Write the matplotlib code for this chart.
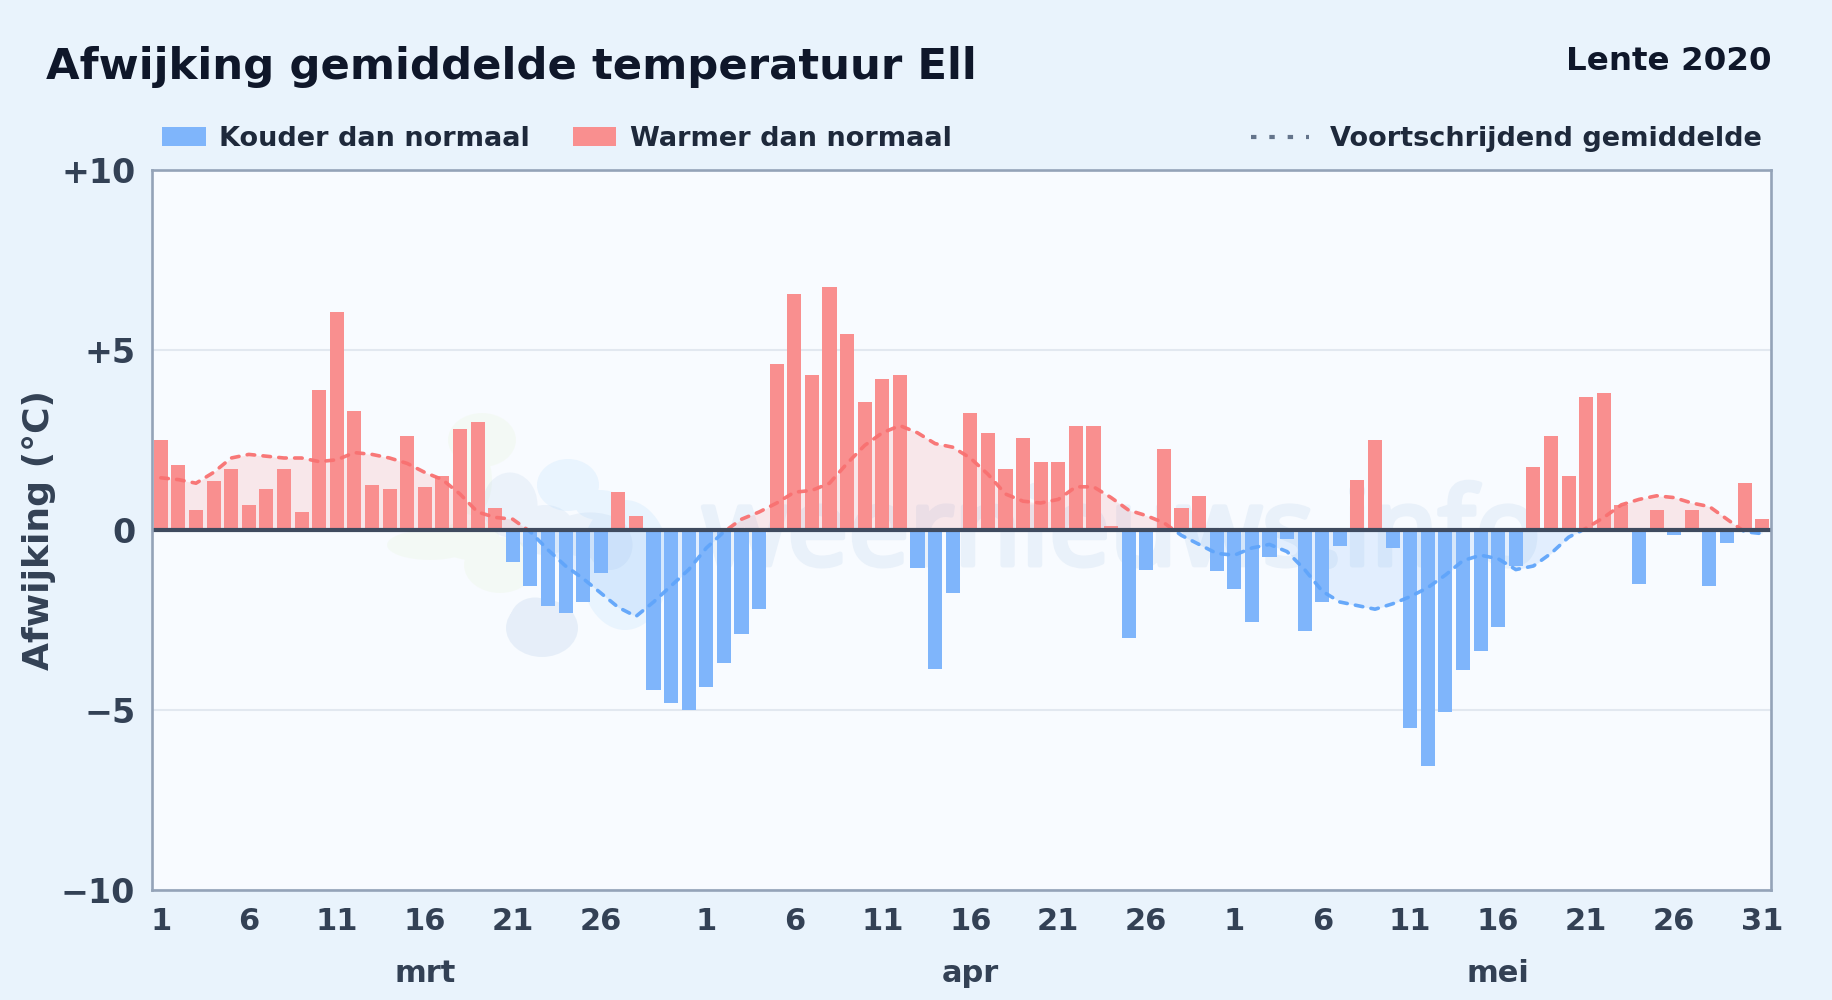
import numpy as np
import matplotlib
matplotlib.use("Agg")
import matplotlib.pyplot as plt
import matplotlib.patheffects as pe
from matplotlib.patches import Rectangle, PathPatch
from matplotlib.path import Path
from matplotlib.transforms import Affine2D, IdentityTransform, blended_transform_factory
from matplotlib.lines import Line2D

plt.rcParams['font.family'] = ['DejaVu Sans']

TITLE = "Afwijking gemiddelde temperatuur Ell"
PERIOD = "Lente 2020"
YLABEL = "Afwijking (°C)"
LEGEND_COLD = "Kouder dan normaal"
LEGEND_WARM = "Warmer dan normaal"
LEGEND_MEAN = "Voortschrijdend gemiddelde"

march = [2.5, 1.8, 0.55, 1.35, 1.7, 0.7, 1.15, 1.7, 0.5, 3.9, 6.05, 3.3, 1.25, 1.15, 2.6, 1.2,
         1.5, 2.8, 3.0, 0.6, -0.9, -1.55, -2.1, -2.3, -2.0, -1.2, 1.05, 0.4, -4.45, -4.8, -5.0]
april = [-4.35, -3.7, -2.9, -2.2, 4.6, 6.55, 4.3, 6.75, 5.45, 3.55, 4.2, 4.3, -1.05, -3.85, -1.75,
         3.25, 2.7, 1.7, 2.55, 1.9, 1.9, 2.9, 2.9, 0.1, -3.0, -1.1, 2.25, 0.6, 0.95, -1.15]
may = [-1.65, -2.55, -0.75, -0.25, -2.8, -2.0, -0.45, 1.4, 2.5, -0.5, -5.5, -6.55, -5.05, -3.9,
       -3.35, -2.7, -1.0, 1.75, 2.6, 1.5, 3.7, 3.8, 0.7, -1.5, 0.55, -0.15, 0.55, -1.55, -0.35, 1.3, 0.3]
running_mean = [1.45, 1.4, 1.3, 1.6, 2.0, 2.1, 2.05, 2.0, 2.0, 1.9, 1.95, 2.15, 2.1, 2.0, 1.85, 1.6,
                1.4, 1.0, 0.5, 0.35, 0.3, -0.05, -0.55, -1.0, -1.35, -1.75, -2.15, -2.4, -2.0, -1.55, -1.1,
                -0.5, -0.05, 0.3, 0.5, 0.75, 1.05, 1.1, 1.3, 1.85, 2.35, 2.7, 2.9, 2.7, 2.4, 2.3,
                2.0, 1.55, 1.0, 0.8, 0.75, 0.85, 1.2, 1.2, 0.9, 0.55, 0.4, 0.2, -0.15, -0.4, -0.65,
                -0.7, -0.5, -0.4, -0.6, -1.1, -1.7, -2.0, -2.1, -2.2, -2.05, -1.85, -1.6, -1.25, -0.85,
                -0.7, -0.8, -1.1, -1.0, -0.65, -0.2, 0.05, 0.35, 0.7, 0.85, 0.95, 0.9, 0.75, 0.65, 0.3, -0.05, -0.1]
month_names = ["mrt", "apr", "mei"]
day_ticks = [1, 6, 11, 16, 21, 26]
y_ticks = [-10, -5, 0, 5, 10]
y_labels = ["\u221210", "\u22125", "0", "+5", "+10"]

values = np.array(march + april + may)
mean = np.array(running_mean)
x = np.arange(len(values))
month_lengths = [len(march), len(april), len(may)]

BG = "#e9f3fc"
BLUE = "#60a5fa"
RED = "#f87171"
BLUE_BAR = "#7fb5fb"
RED_BAR = "#f98f8f"

W, H = 1832, 1000
fig = plt.figure(figsize=(W / 100, H / 100), dpi=100, facecolor=BG)
ax = fig.add_axes([152 / W, 1 - 890 / H, (1771 - 152) / W, (890 - 170) / H], facecolor="#f8fbff")
ax.set_xlim(-0.5, len(values) - 0.5)
ax.set_ylim(-10, 10)

# watermark (decoration, in pixels of the figure)
def px(xc, yc, w, h):
    return Path.unit_circle().transformed(Affine2D().scale(w / 2, h / 2).translate(xc, H - yc))

def blob(parts, color, alpha):
    path = Path.make_compound_path(*[px(*p) for p in parts])
    patch = PathPatch(path, transform=IdentityTransform(), facecolor=color, edgecolor="none",
                      alpha=alpha, zorder=0.5)
    ax.add_patch(patch)

blob([(482, 440, 68, 54), (472, 480, 40, 70), (430, 545, 86, 30), (500, 565, 72, 56), (470, 540, 60, 40)],
     "#d9f0b8", 0.13)
blob([(510, 505, 55, 65), (545, 530, 60, 50), (590, 535, 80, 45), (610, 545, 45, 50)], "#a9c4e4", 0.16)
blob([(568, 485, 62, 52), (600, 505, 50, 30), (625, 565, 90, 130)], "#8fcbfb", 0.14)
blob([(542, 628, 72, 58), (535, 620, 50, 45)], "#a9c4e4", 0.22)
WM_COLOR = "#e9f1fa"
ax.text(702, H - 565, "weernieuws.info", transform=IdentityTransform(), fontsize=78,
        family="Noto Sans", color=WM_COLOR, ha="left", va="baseline", zorder=0.6, clip_on=True,
        path_effects=[pe.withStroke(linewidth=3.5, foreground=WM_COLOR)])

ax.yaxis.grid(True, color="#e2e8f0", lw=1.5, zorder=0.2)
ax.set_axisbelow(True)
colors = [RED_BAR if v >= 0 else BLUE_BAR for v in values]
ax.bar(x, values, width=0.8, color=colors, edgecolor="none", zorder=2)

ypos = Rectangle((-1, 0), len(values) + 2, 11, transform=ax.transData)
yneg = Rectangle((-1, -11), len(values) + 2, 11, transform=ax.transData)
for color, clip in ((RED, ypos), (BLUE, yneg)):
    f = ax.fill_between(x, mean, 0, color=color, alpha=0.14, lw=0, zorder=1.5)
    f.set_clip_path(clip)
    ln, = ax.plot(x, mean, color=color, lw=2.6, dashes=(2.1, 2.3), dash_capstyle="round",
                  dash_joinstyle="round", alpha=0.95, zorder=3)
    ln.set_clip_path(clip)

ax.axhline(0, color="#3f4b5f", lw=3.0, zorder=4)

for s in ax.spines.values():
    s.set_color("#94a3b8")
    s.set_linewidth(1.9)
    s.set_zorder(5)

ax.set_yticks(y_ticks)
ax.set_yticklabels(y_labels)
starts = np.cumsum([0] + month_lengths[:-1])
xt, xl = [], []
for st, n in zip(starts, month_lengths):
    for d in day_ticks + ([31] if n == 31 and st == starts[-1] else []):
        xt.append(st + d - 1)
        xl.append(str(d))
ax.set_xticks(xt)
ax.set_xticklabels(xl)
ax.tick_params(axis="y", length=0, labelsize=24, labelcolor="#334155", pad=12)
ax.tick_params(axis="x", length=0, labelsize=22, labelcolor="#334155", pad=12)
for lab in ax.get_xticklabels() + ax.get_yticklabels():
    lab.set_fontweight("bold")

month_tf = blended_transform_factory(ax.transData, IdentityTransform())
for name, st in zip(month_names, starts):
    ax.text(st + 15, H - 974, name, transform=month_tf, ha="center", va="center", fontsize=22,
            fontweight="bold", color="#334155")

fig.text(39 / W, 1 - 530 / H, YLABEL, rotation=90, ha="center", va="center", fontsize=26,
         fontweight="bold", color="#334155")
fig.text(46 / W, 1 - 67 / H, TITLE, ha="left", va="center", fontsize=31.2, fontweight="bold", color="#0f172a")
fig.text(1771 / W, 1 - 61 / H, PERIOD, ha="right", va="center", fontsize=23.4, fontweight="bold", color="#0f172a")

fig.add_artist(Rectangle((162 / W, 1 - 146 / H), 44 / W, 19 / H, transform=fig.transFigure, facecolor=BLUE_BAR, edgecolor="none"))
fig.text(219 / W, 1 - 138.5 / H, LEGEND_COLD, ha="left", va="center", fontsize=19.55, fontweight="bold", color="#1e293b")
fig.add_artist(Rectangle((573 / W, 1 - 146 / H), 43 / W, 19 / H, transform=fig.transFigure, facecolor=RED_BAR, edgecolor="none"))
fig.text(630 / W, 1 - 138.5 / H, LEGEND_WARM, ha="left", va="center", fontsize=19.55, fontweight="bold", color="#1e293b")
fig.add_artist(Line2D([1251 / W, 1309 / W], [1 - 137 / H] * 2, transform=fig.transFigure, color="#64748b",
                      lw=3, dashes=(1.3, 3.1)))
fig.text(1330 / W, 1 - 138.5 / H, LEGEND_MEAN, ha="left", va="center", fontsize=19.55, fontweight="bold", color="#1e293b")

fig.savefig("out.png", dpi=100, facecolor=BG)
